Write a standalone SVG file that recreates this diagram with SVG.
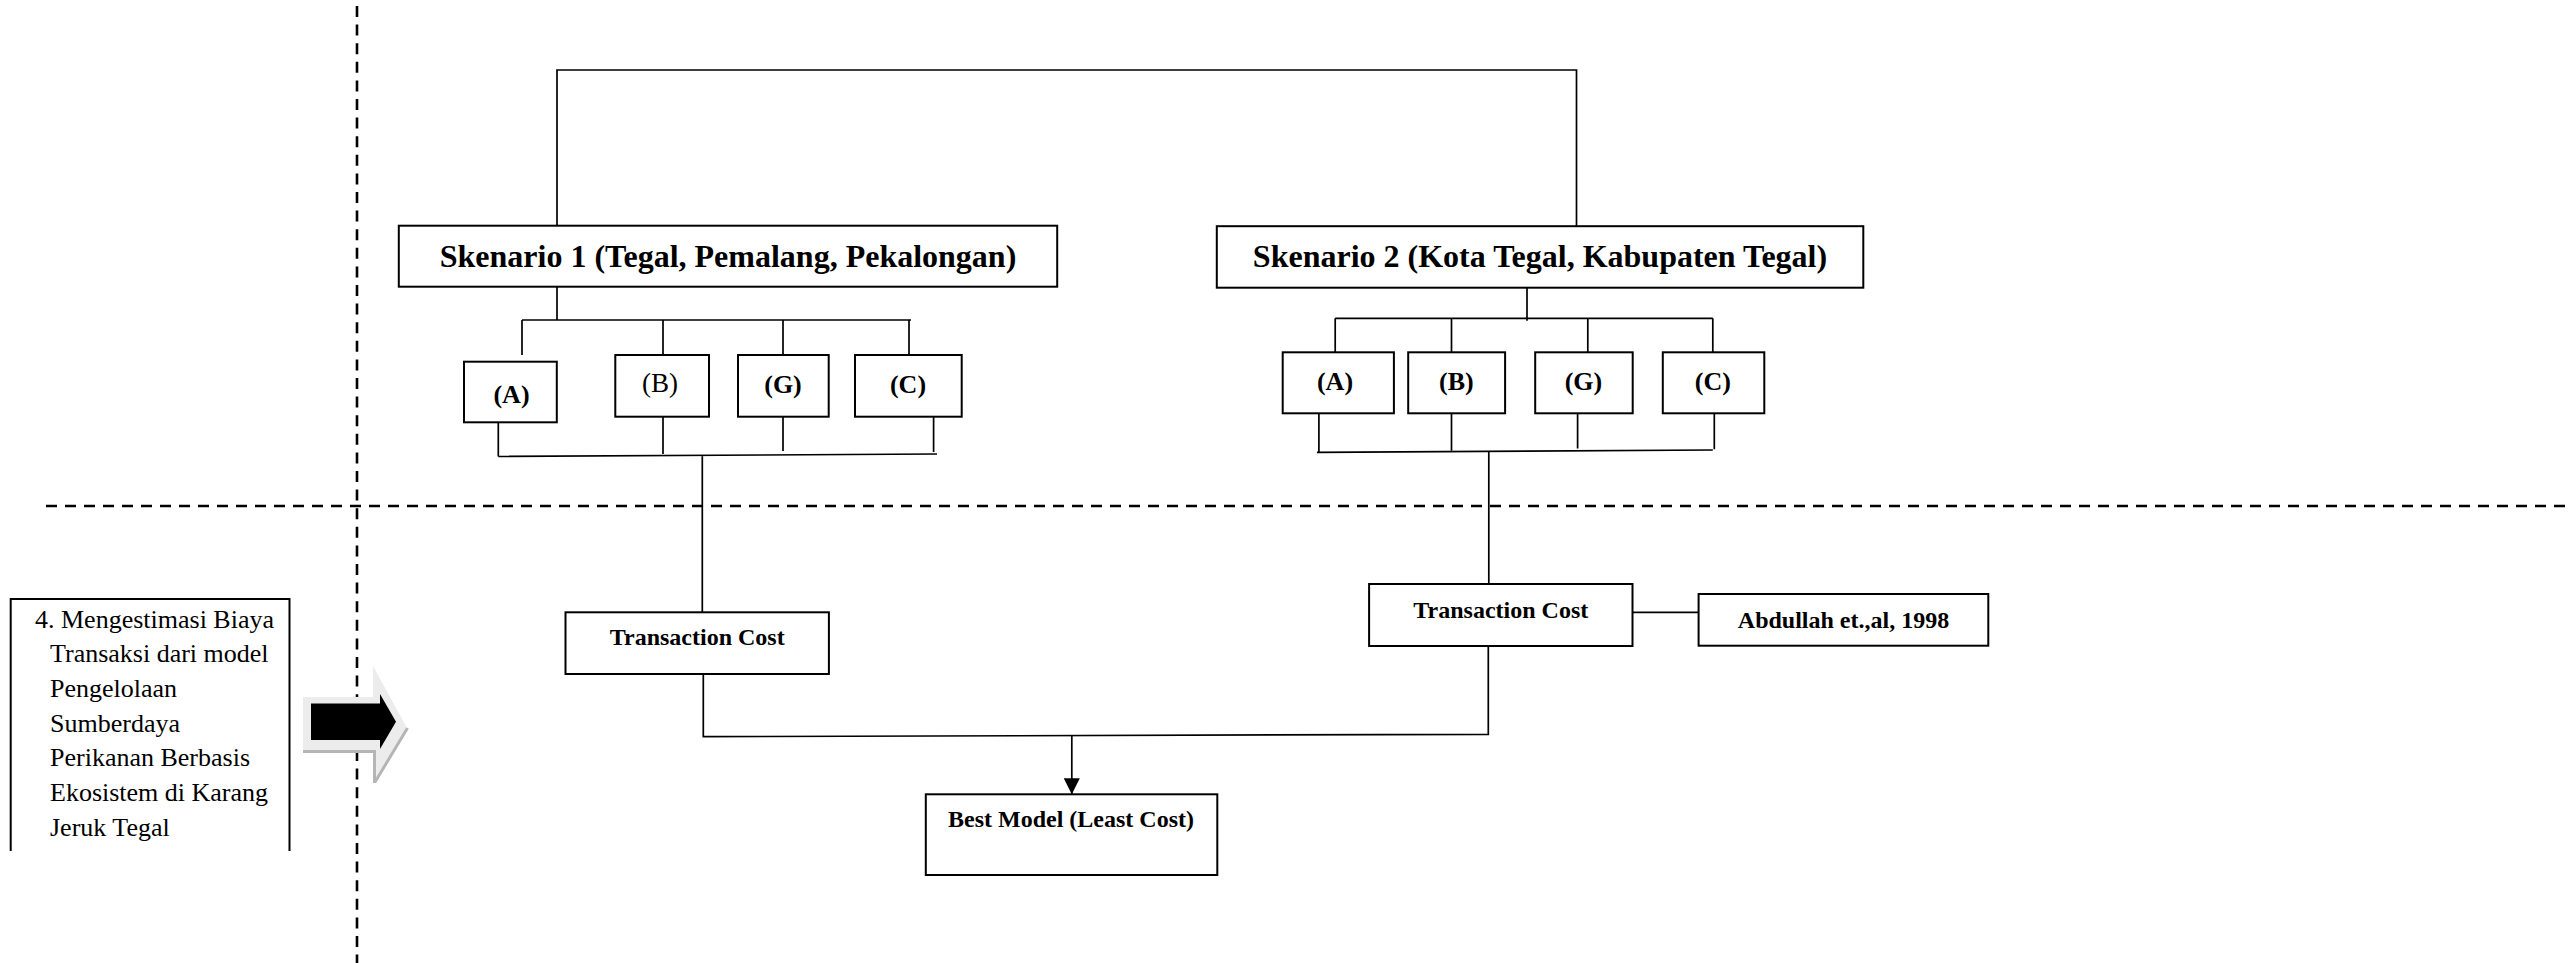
<svg xmlns="http://www.w3.org/2000/svg" width="2572" height="963" viewBox="0 0 2572 963">
  <defs>
    <style>
      .box { fill: #ffffff; stroke: #000000; stroke-width: 2; }
      .ln { fill: none; stroke: #000000; stroke-width: 1.7; }
      .dash { fill: none; stroke: #000000; stroke-width: 2.6; }
      .tb { font-family: "Liberation Serif", "Times New Roman", serif; font-weight: bold; fill: #000000; text-anchor: middle; }
      .tr { font-family: "Liberation Serif", "Times New Roman", serif; fill: #000000; }
    </style>
    <marker id="arrowhead" viewBox="0 0 16 16" refX="16" refY="8" markerWidth="16" markerHeight="16" markerUnits="userSpaceOnUse" orient="auto">
      <path d="M0,0 L16,8 L0,16 Z" fill="#000000"/>
    </marker>
  </defs>
  <rect x="0" y="0" width="2572" height="963" fill="#ffffff"/>

  <!-- dashed section dividers -->
  <g id="dividers">
    <line class="dash" x1="357" y1="6" x2="357" y2="963" stroke-dasharray="11 7.6"/>
    <line class="dash" x1="46" y1="506" x2="2572" y2="506" stroke-dasharray="11 8"/>
  </g>

  <!-- connectors -->
  <g id="connectors">
    <!-- link between the two scenarios -->
    <path class="ln" d="M557,226 V70 H1576.5 V226"/>
    <!-- scenario 1 fan-out -->
    <path class="ln" d="M557,287 V320 M522,320 H911 M522,320 V355 M663,320 V355 M783,320 V355 M909,320 V355"/>
    <!-- scenario 1 fan-in -->
    <path class="ln" d="M498.3,422 V456.5 M498.3,456.5 L937,454 M663,417 V454 M783,417 V451 M933.6,417 V452 M702.3,456 V612.3"/>
    <!-- scenario 2 fan-out -->
    <path class="ln" d="M1527,288 V320.7 M1335.2,318.3 H1712.8 M1335.2,318.3 V352.3 M1451.5,318.3 V352.3 M1587.8,318.3 V352.3 M1712.8,318.3 V352.3"/>
    <!-- scenario 2 fan-in -->
    <path class="ln" d="M1318.9,413.3 V452.3 M1317,452.3 L1712.8,450 M1451.5,413.3 V450.5 M1577.6,413.3 V448.5 M1714.3,413.3 V449.3 M1488.8,452 V584"/>
    <!-- transaction costs to best model -->
    <path class="ln" d="M703.3,674 V736.7 L1488.3,734.3 V646"/>
    <line class="ln" x1="1071.8" y1="735.5" x2="1071.8" y2="794.3" marker-end="url(#arrowhead)"/>
    <!-- reference link -->
    <line class="ln" x1="1632.5" y1="612.3" x2="1698.6" y2="612.3"/>
  </g>

  <!-- objective text box (open at the bottom) -->
  <g id="objective">
    <path class="box" fill="none" style="fill:none" d="M10.7,851 V599 H289.5 V851"/>
    <text class="tr" font-size="26" x="35" y="627.7">4. Mengestimasi Biaya</text>
    <text class="tr" font-size="26" x="50" y="662">Transaksi dari model</text>
    <text class="tr" font-size="26" x="50" y="696.8">Pengelolaan</text>
    <text class="tr" font-size="26" x="50" y="731.6">Sumberdaya</text>
    <text class="tr" font-size="26" x="50" y="766.4">Perikanan Berbasis</text>
    <text class="tr" font-size="26" x="50" y="801.2">Ekosistem di Karang</text>
    <text class="tr" font-size="26" x="50" y="836">Jeruk Tegal</text>
  </g>

  <!-- block arrow -->
  <g id="block-arrow">
    <polygon points="303,697 373,697 373,666 406.5,727 373,782 373,750 303,750" fill="#ececec"/>
    <polyline points="303,751.5 374.5,751.5 374.5,783" fill="none" stroke="#b5b5b5" stroke-width="3"/>
    <polyline points="375,782 407.5,728" fill="none" stroke="#b5b5b5" stroke-width="3"/>
    <polygon points="311,703.5 380,703.5 380,694 396,721.7 380,749 380,740 311,740" fill="#000000"/>
  </g>

  <!-- scenario 1 -->
  <g id="skenario-1">
    <rect class="box" x="398.8" y="225.7" width="658.4" height="61"/>
    <text class="tb" font-size="32" x="728" y="266.7">Skenario 1 (Tegal, Pemalang, Pekalongan)</text>
  </g>
  <g id="s1-a">
    <rect class="box" x="464" y="361.7" width="92.8" height="60.6"/>
    <text class="tb" font-size="26" x="511.5" y="403.3">(A)</text>
  </g>
  <g id="s1-b">
    <rect class="box" x="615.3" y="355" width="93.7" height="61.7"/>
    <text class="tb" font-size="27" font-weight="normal" style="font-weight:normal" x="660" y="391.7">(B)</text>
  </g>
  <g id="s1-g">
    <rect class="box" x="738" y="355" width="90.7" height="61.7"/>
    <text class="tb" font-size="26" x="783" y="393.3">(G)</text>
  </g>
  <g id="s1-c">
    <rect class="box" x="855" y="355" width="106.7" height="61.7"/>
    <text class="tb" font-size="26" x="908" y="393.3">(C)</text>
  </g>

  <!-- scenario 2 -->
  <g id="skenario-2">
    <rect class="box" x="1216.8" y="226.2" width="646.5" height="61.5"/>
    <text class="tb" font-size="32" x="1540" y="266.7">Skenario 2 (Kota Tegal, Kabupaten Tegal)</text>
  </g>
  <g id="s2-a">
    <rect class="box" x="1282.7" y="352.3" width="111.2" height="61"/>
    <text class="tb" font-size="26" x="1335" y="390">(A)</text>
  </g>
  <g id="s2-b">
    <rect class="box" x="1408.2" y="352.3" width="96.9" height="61"/>
    <text class="tb" font-size="26" x="1456.4" y="390">(B)</text>
  </g>
  <g id="s2-g">
    <rect class="box" x="1535.2" y="352.3" width="97.5" height="61"/>
    <text class="tb" font-size="26" x="1583.4" y="390">(G)</text>
  </g>
  <g id="s2-c">
    <rect class="box" x="1662.8" y="352.3" width="101.5" height="61"/>
    <text class="tb" font-size="26" x="1712.8" y="390">(C)</text>
  </g>

  <!-- cost estimation -->
  <g id="transaction-cost-1">
    <rect class="box" x="565.5" y="612.3" width="263.4" height="61.7"/>
    <text class="tb" font-size="24" x="697.2" y="645">Transaction Cost</text>
  </g>
  <g id="transaction-cost-2">
    <rect class="box" x="1369.1" y="584" width="263.4" height="62"/>
    <text class="tb" font-size="24" x="1500.8" y="618.3">Transaction Cost</text>
  </g>
  <g id="reference">
    <rect class="box" x="1698.6" y="594" width="289.7" height="51.7"/>
    <text class="tb" font-size="24" x="1843.5" y="628.3">Abdullah et.,al, 1998</text>
  </g>
  <g id="best-model">
    <rect class="box" x="925.8" y="794.3" width="291.5" height="80.7"/>
    <text class="tb" font-size="24" x="1071" y="827.3">Best Model (Least Cost)</text>
  </g>
</svg>
